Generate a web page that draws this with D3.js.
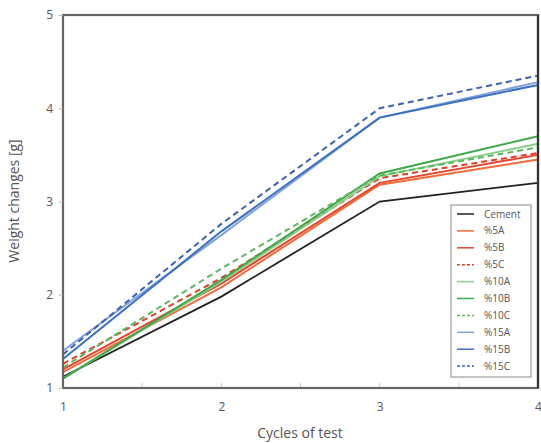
<!DOCTYPE html>
<html><head><meta charset="utf-8">
<script src="https://cdn.jsdelivr.net/npm/d3@7"></script>
<style>body{margin:0;background:#fff;} svg{display:block;font-family:"Open Sans",sans-serif;}</style>
</head><body>
<svg id="c" width="541" height="443"></svg>
<script>
const cycles = [1, 2, 3, 4];
const seriesNames = ["Cement","%5A","%5B","%5C","%10A","%10B","%10C","%15A","%15B","%15C"];
const cement = [1.12, 1.98, 3.00, 3.20];
const s5A  = [1.17, 2.08, 3.18, 3.45];
const s5B  = [1.20, 2.12, 3.20, 3.50];
const s5C  = [1.26, 2.18, 3.25, 3.52];
const s10A = [1.10, 2.14, 3.27, 3.62];
const s10B = [1.10, 2.16, 3.30, 3.70];
const s10C = [1.22, 2.28, 3.28, 3.58];
const s15A = [1.40, 2.64, 3.90, 4.28];
const s15B = [1.31, 2.68, 3.90, 4.25];
const s15C = [1.36, 2.76, 4.00, 4.35];
const seriesValues = [cement, s5A, s5B, s5C, s10A, s10B, s10C, s15A, s15B, s15C];
const colors = ["#222222","#f26b3a","#e8452c","#e0402a","#8ccf8a","#3fa94a","#5cb860","#7fa3da","#3b6fc2","#3d62b3"];
const dashed = [false,false,false,true,false,false,true,false,false,true];
const yTicks = [1,2,3,4,5];
const xTicks = [1,2,3,4];

const svg = d3.select("#c");
const L=63, R=538, T=15, B=388;
const x = d3.scaleLinear().domain([1,4]).range([L,R]);
const y = d3.scaleLinear().domain([1,5]).range([B,T]);

// minor ticks inside at bottom
svg.append("g").selectAll("line").data([1.5,2,2.5,3,3.5]).join("line")
  .attr("x1",d=>x(d)).attr("x2",d=>x(d)).attr("y1",B).attr("y2",B-5)
  .attr("stroke","#ccc").attr("stroke-width",1);

const line = d3.line().x((d,i)=>x(cycles[i])).y(d=>y(d));
seriesValues.forEach((vals,k)=>{
  svg.append("path").datum(vals).attr("d",line)
    .attr("fill","none").attr("stroke",colors[k]).attr("stroke-width",k===0?1.8:2)
    .attr("stroke-dasharray",dashed[k]?"6,4":null);
});

// frame
svg.append("rect").attr("x",L).attr("y",T).attr("width",R-L).attr("height",B-T)
  .attr("fill","none").attr("stroke","#666").attr("stroke-width",2.2);
svg.append("line").attr("x1",R).attr("x2",R).attr("y1",T).attr("y2",B).attr("stroke","#333").attr("stroke-width",2.2);

// y axis
const yAxis = d3.axisLeft(y).tickValues(yTicks).tickFormat(d3.format("d")).tickSize(4).tickPadding(6);
const ga = svg.append("g").attr("transform",`translate(${L},0)`).call(yAxis);
ga.select(".domain").remove();
ga.selectAll("line").attr("stroke","#bbb");
ga.selectAll("text").attr("font-size",12).attr("fill","#555").attr("font-family","Open Sans");

const xAxis = d3.axisBottom(x).tickValues(xTicks).tickFormat(d3.format("d")).tickSize(0).tickPadding(14);
const gx = svg.append("g").attr("transform",`translate(0,${B})`).call(xAxis);
gx.select(".domain").remove();
gx.selectAll("text").attr("font-size",12).attr("fill","#555").attr("font-family","Open Sans");

svg.append("text").attr("x",300).attr("y",438).attr("text-anchor","middle")
  .attr("font-size",14).attr("fill","#555").text("Cycles of test");
svg.append("text").attr("transform","translate(19,201) rotate(-90)").attr("text-anchor","middle")
  .attr("font-size",14).attr("fill","#555").text("Weight changes [g]");

// legend
const lg = svg.append("g");
lg.append("rect").attr("x",451).attr("y",205).attr("width",80).attr("height",172)
  .attr("fill","#fff").attr("stroke","#888").attr("stroke-width",1);
seriesNames.forEach((n,k)=>{
  const yy = 214 + k*16.9;
  lg.append("line").attr("x1",457).attr("x2",474).attr("y1",yy).attr("y2",yy)
    .attr("stroke",colors[k]).attr("stroke-width",1.5).attr("stroke-dasharray",dashed[k]?"3,2":null);
  lg.append("text").attr("x",484).attr("y",yy+3.5).attr("font-size",10).attr("fill","#555").text(n);
});
</script>
</body></html>
